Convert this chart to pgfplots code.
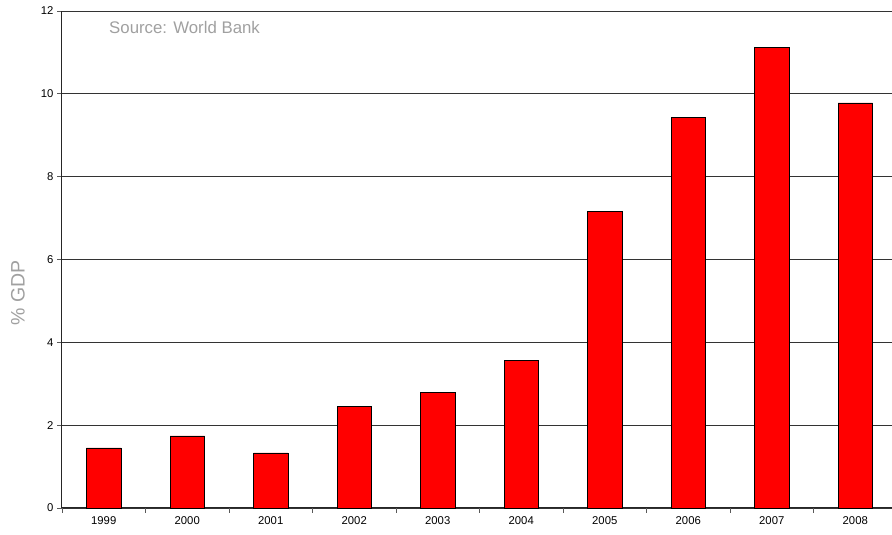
\documentclass[border=0pt]{standalone}
\usepackage{pgfplots}
\pgfplotsset{compat=1.18}
\usepackage{fontspec}
\setmainfont{Liberation Sans}
\definecolor{srcgray}{RGB}{160,160,160}
\begin{document}
\begin{tikzpicture}
\path[use as bounding box] (-62pt,-27pt) rectangle (830pt,508pt);
\begin{scope}
\clip (-62pt,-27pt) rectangle (830pt,508pt);
\begin{axis}[
 at={(0,0)}, anchor=south west,
 scale only axis, width=835pt, height=497pt,
 xmin=0, xmax=10, ymin=0, ymax=12,
 ytick={0,2,...,12},
 xtick={0,...,10},
 x tick label as interval,
 xticklabels={1999,2000,2001,2002,2003,2004,2005,2006,2007,2008},
 axis x line*=bottom, axis y line*=left,
 axis line style={-, black!85, line width=1pt},
 ymajorgrids, grid style={black!80, line width=0.8pt},
 tick align=outside, major tick length=5pt,
 tick style={black!65, line width=0.8pt},
 tick label style={font=\fontsize{11.3}{13}\selectfont, text=black},
 /pgf/number format/assume math mode=true,
 ylabel={\% GDP},
 every axis y label/.style={at={(axis description cs:0,0.433)}, xshift=-44pt, rotate=90, anchor=center, font=\fontsize{19.5}{22}\selectfont, text=srcgray},
 clip=false,
]
\addplot[ybar, bar width=34.5pt, fill=red, draw=black, line width=0.8pt] coordinates {
(0.5,1.45) (1.5,1.74) (2.5,1.33) (3.5,2.46) (4.5,2.80) (5.5,3.57) (6.5,7.17) (7.5,9.44) (8.5,11.11) (9.5,9.78)};
\node[anchor=west, inner sep=0pt, text=srcgray, font=\fontsize{16.8}{18}\selectfont] at (rel axis cs:0.0563,0.966) {Source: World Bank};
\end{axis}
\end{scope}
\end{tikzpicture}
\end{document}
